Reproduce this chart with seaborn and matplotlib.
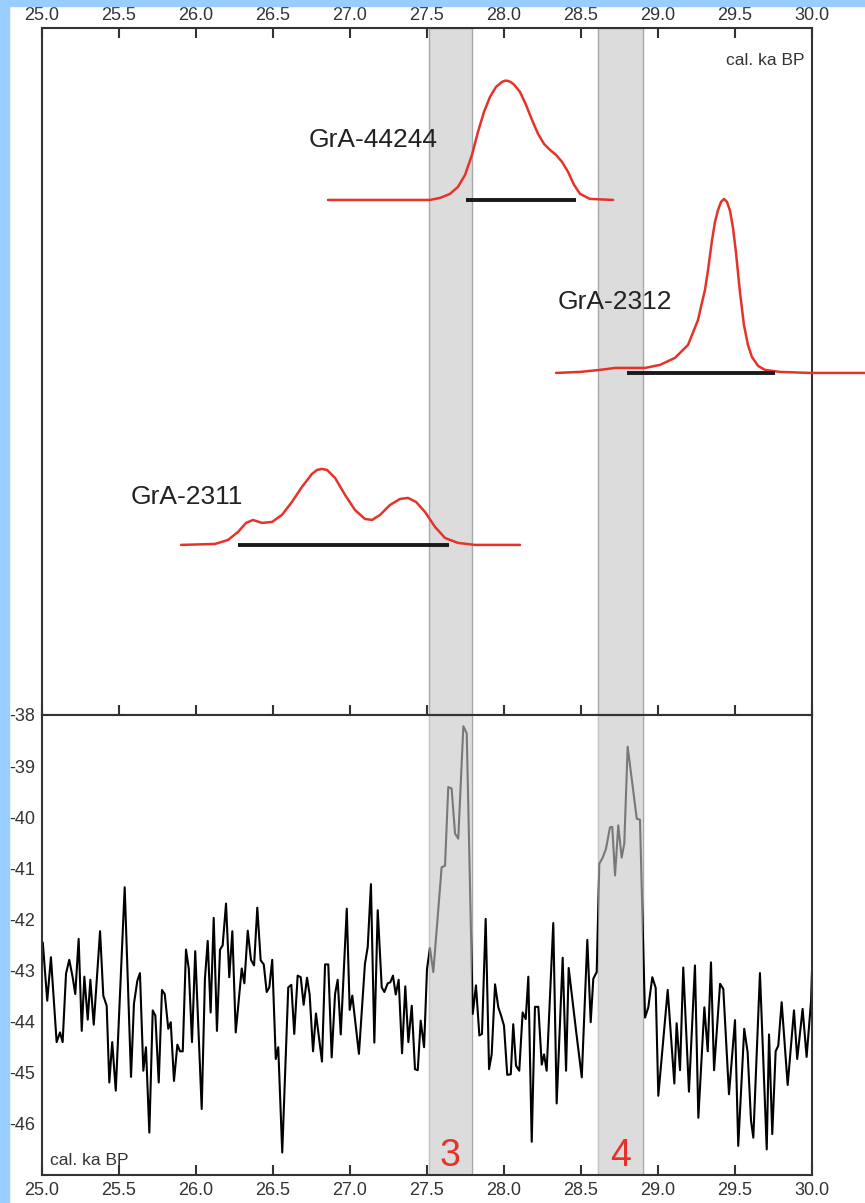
import numpy as np
import pandas as pd
import matplotlib
matplotlib.use("Agg")
import matplotlib.pyplot as plt
from matplotlib.patches import Rectangle
import seaborn as sns

# ---- isotope record (lower panel) ----
series_age = [
    25.005, 25.034, 25.058, 25.095, 25.117, 25.134, 25.156, 25.177, 25.199, 25.216,
    25.238, 25.258, 25.275, 25.297, 25.314, 25.336, 25.377, 25.398, 25.420, 25.437,
    25.456, 25.479, 25.537, 25.578, 25.597, 25.619, 25.636, 25.658, 25.675, 25.697,
    25.719, 25.736, 25.758, 25.779, 25.797, 25.820, 25.836, 25.857, 25.879, 25.896,
    25.914, 25.935, 25.953, 25.974, 25.995, 26.037, 26.058, 26.076, 26.095, 26.115,
    26.136, 26.156, 26.173, 26.195, 26.216, 26.236, 26.258, 26.297, 26.314, 26.336,
    26.357, 26.377, 26.398, 26.420, 26.440, 26.459, 26.476, 26.495, 26.518, 26.534,
    26.560, 26.599, 26.619, 26.638, 26.660, 26.680, 26.699, 26.721, 26.738, 26.760,
    26.779, 26.818, 26.838, 26.859, 26.881, 26.903, 26.920, 26.940, 26.979, 26.998,
    27.015, 27.058, 27.097, 27.115, 27.136, 27.158, 27.180, 27.206, 27.223, 27.245,
    27.262, 27.279, 27.297, 27.316, 27.338, 27.359, 27.379, 27.401, 27.422, 27.440,
    27.459, 27.481, 27.500, 27.519, 27.541, 27.595, 27.617, 27.638, 27.660, 27.682,
    27.703, 27.736, 27.758, 27.797, 27.818, 27.840, 27.857, 27.881, 27.903, 27.920,
    27.942, 27.963, 27.981, 28.000, 28.021, 28.044, 28.060, 28.078, 28.099, 28.121,
    28.141, 28.158, 28.180, 28.201, 28.223, 28.245, 28.260, 28.277, 28.320, 28.342,
    28.381, 28.403, 28.420, 28.468, 28.505, 28.541, 28.563, 28.580, 28.602, 28.619,
    28.641, 28.662, 28.688, 28.703, 28.721, 28.742, 28.764, 28.781, 28.803, 28.862,
    28.883, 28.916, 28.937, 28.963, 28.985, 29.002, 29.063, 29.106, 29.121, 29.143,
    29.164, 29.201, 29.240, 29.262, 29.301, 29.323, 29.344, 29.364, 29.403, 29.424,
    29.461, 29.500, 29.521, 29.560, 29.582, 29.604, 29.619, 29.662, 29.706, 29.721,
    29.742, 29.764, 29.781, 29.803, 29.842, 29.883, 29.904, 29.939, 29.965, 29.994,
    30.000,
]
series_val = [
    -42.45, -43.59, -42.74, -44.40, -44.21, -44.40, -43.06, -42.79, -43.13, -43.46,
    -42.38, -44.18, -43.12, -43.96, -43.18, -44.06, -42.23, -43.49, -43.69, -45.19,
    -44.40, -45.35, -41.37, -45.08, -43.65, -43.20, -43.05, -44.96, -44.50, -46.17,
    -43.78, -43.88, -45.19, -43.38, -43.46, -44.14, -44.01, -45.16, -44.45, -44.58,
    -44.58, -42.59, -42.96, -44.40, -42.62, -45.71, -43.16, -42.42, -43.82, -41.97,
    -44.18, -42.59, -42.51, -41.69, -43.13, -42.23, -44.21, -42.96, -43.25, -42.22,
    -42.79, -42.90, -41.77, -42.80, -42.88, -43.42, -43.33, -42.79, -44.73, -44.50,
    -46.56, -43.33, -43.28, -44.24, -43.10, -43.13, -43.67, -43.14, -43.47, -44.58,
    -43.84, -44.78, -42.88, -42.88, -44.70, -43.46, -43.18, -44.25, -41.79, -43.77,
    -43.49, -44.63, -42.87, -42.54, -41.31, -44.41, -41.82, -43.33, -43.42, -43.25,
    -43.23, -43.10, -43.47, -43.18, -44.62, -43.31, -44.40, -43.69, -44.93, -44.95,
    -43.98, -44.50, -42.97, -42.56, -43.03, -40.98, -40.95, -39.41, -39.44, -40.32,
    -40.42, -38.22, -38.36, -43.85, -43.29, -44.27, -44.24, -41.99, -44.93, -44.64,
    -43.27, -43.72, -43.88, -44.08, -45.04, -45.03, -44.05, -44.86, -44.96, -43.82,
    -43.95, -43.12, -46.35, -43.71, -43.71, -44.84, -44.64, -44.96, -42.07, -45.60,
    -42.75, -44.96, -42.95, -44.18, -45.09, -42.40, -44.01, -43.16, -43.03, -40.91,
    -40.79, -40.62, -40.20, -40.19, -41.14, -40.16, -40.79, -40.52, -38.62, -40.03,
    -40.05, -43.92, -43.72, -43.13, -43.34, -45.45, -43.38, -45.21, -44.03, -44.95,
    -42.94, -45.37, -42.90, -45.88, -43.72, -44.58, -42.84, -44.95, -43.26, -43.36,
    -45.42, -43.97, -46.43, -44.14, -44.60, -45.94, -46.27, -43.05, -46.50, -44.25,
    -46.20, -44.58, -44.47, -43.62, -45.24, -43.78, -44.73, -43.75, -44.69, -43.59,
    -43.00,
]

# ---- calibrated radiocarbon ages (upper panel, arbitrary vertical units) ----
gra44244_age = [26.857, 27.519, 27.584, 27.649, 27.701, 27.747, 27.792, 27.831, 27.870,
                27.909, 27.948, 27.987, 28.007, 28.026, 28.045, 28.065, 28.104, 28.143,
                28.182, 28.221, 28.260, 28.299, 28.338, 28.377, 28.416, 28.455, 28.494,
                28.558, 28.708]
gra44244_prob = [7.496, 7.496, 7.525, 7.584, 7.686, 7.860, 8.151, 8.486, 8.777,
                 8.996, 9.141, 9.214, 9.232, 9.229, 9.210, 9.175, 9.068, 8.879,
                 8.661, 8.457, 8.311, 8.224, 8.151, 8.049, 7.904, 7.715, 7.584,
                 7.511, 7.496]

gra2312_age = [28.338, 28.494, 28.623, 28.721, 28.818, 28.916, 29.013, 29.110, 29.195,
               29.260, 29.279, 29.305, 29.325, 29.351, 29.370, 29.390, 29.409, 29.429,
               29.448, 29.468, 29.487, 29.506, 29.532, 29.558, 29.584, 29.610, 29.650,
               29.695, 29.792, 29.987, 30.344]
gra2312_prob = [4.978, 4.993, 5.022, 5.051, 5.051, 5.051, 5.095, 5.197, 5.386,
                5.750, 5.939, 6.186, 6.477, 6.914, 7.176, 7.351, 7.467, 7.511,
                7.467, 7.336, 7.089, 6.739, 6.157, 5.677, 5.386, 5.211, 5.080,
                5.022, 4.993, 4.978, 4.978]

gra2311_age = [25.903, 26.123, 26.208, 26.273, 26.325, 26.370, 26.429, 26.494, 26.558,
               26.623, 26.688, 26.753, 26.786, 26.818, 26.851, 26.903, 26.968, 27.032,
               27.097, 27.143, 27.195, 27.260, 27.325, 27.377, 27.429, 27.487, 27.552,
               27.617, 27.701, 27.812, 28.104]
gra2311_prob = [2.475, 2.489, 2.547, 2.664, 2.795, 2.838, 2.795, 2.809, 2.911,
                3.100, 3.319, 3.508, 3.566, 3.581, 3.566, 3.450, 3.202, 2.984,
                2.853, 2.838, 2.911, 3.057, 3.144, 3.159, 3.100, 2.955, 2.737,
                2.576, 2.504, 2.475, 2.475]

sample_names = ["GrA-44244", "GrA-2312", "GrA-2311"]
range_start = [27.75, 28.80, 26.27]
range_end = [28.47, 29.76, 27.64]
range_level = [7.496, 4.978, 2.475]
name_pos = [(27.15, 8.37), (28.72, 6.01), (25.94, 3.17)]

# interstadial bands
band_start = [27.51, 28.61]
band_end = [27.79, 28.90]
band_names = ["3", "4"]

tick_vals = [25.0, 25.5, 26.0, 26.5, 27.0, 27.5, 28.0, 28.5, 29.0, 29.5, 30.0]
y_ticks = [-38, -39, -40, -41, -42, -43, -44, -45, -46]

RED = "#e5332a"
AXC = "#333333"
BAND = "#dcdcdc"

sns.set_theme(style="white")
plt.rcParams["font.family"] = ["Liberation Sans", "DejaVu Sans"]

fig = plt.figure(figsize=(8.65, 12.03), dpi=100)
fig.patch.set_facecolor("white")
fig.patches.append(Rectangle((0, 0), 9 / 865, 1, transform=fig.transFigure,
                             color="#99ccff", zorder=0))
fig.patches.append(Rectangle((0, 1 - 6 / 1203), 1, 6 / 1203, transform=fig.transFigure,
                             color="#99ccff", zorder=0))

ax_top = fig.add_axes([42 / 865, 0.4057, 770 / 865, 0.5711])
ax_bot = fig.add_axes([42 / 865, 0.02328, 770 / 865, 0.3824])

for ax in (ax_top, ax_bot):
    ax.set_facecolor("white")
    ax.set_xlim(25.0, 30.0)
    for s in ax.spines.values():
        s.set_color(AXC)
        s.set_linewidth(1.5)
        s.set_visible(True)
    for a, b in zip(band_start, band_end):
        ax.axvspan(a, b, facecolor=BAND, edgecolor="#a8a8a8", linewidth=1.0, zorder=0.5)

# upper panel: probability curves
curves = pd.concat([
    pd.DataFrame({"age": gra44244_age, "prob": gra44244_prob, "sample": sample_names[0]}),
    pd.DataFrame({"age": gra2312_age, "prob": gra2312_prob, "sample": sample_names[1]}),
    pd.DataFrame({"age": gra2311_age, "prob": gra2311_prob, "sample": sample_names[2]}),
])
sns.lineplot(data=curves, x="age", y="prob", hue="sample", palette=[RED] * 3,
             sort=False, estimator=None, legend=False, linewidth=1.8, ax=ax_top, zorder=3)
for ln in ax_top.lines:
    ln.set_clip_on(False)
    ln.set_solid_joinstyle("round")
for a, b, lev in zip(range_start, range_end, range_level):
    ax_top.plot([a, b], [lev, lev], color="#1a1a1a", linewidth=2.8,
                solid_capstyle="butt", zorder=4)
for name, (x, y) in zip(sample_names, name_pos):
    ax_top.text(x, y, name, fontsize=19, color="#222222", ha="center", va="center")
ax_top.text(29.95, 9.53, "cal. ka BP", fontsize=12.5, color=AXC, ha="right", va="center")

ax_top.set_ylim(0, 10)
ax_top.set_yticks([])
ax_top.set_xticks(tick_vals)
ax_top.set_xticklabels([f"{t:.1f}" for t in tick_vals])
ax_top.xaxis.tick_top()
ax_top.tick_params(axis="x", which="both", top=True, bottom=True, labeltop=True,
                   labelbottom=False, direction="in", length=7, width=1.5,
                   color=AXC, labelsize=13, labelcolor=AXC, pad=3)
ax_top.set_xlabel("")
ax_top.set_ylabel("")

# lower panel: isotope record
sns.lineplot(x=series_age, y=series_val, color="black", sort=False, estimator=None,
             linewidth=1.5, ax=ax_bot, zorder=2)
# translucent band on top so the line looks grey inside the bands
for a, b in zip(band_start, band_end):
    ax_bot.axvspan(a, b, facecolor=BAND, alpha=0.55, edgecolor="none", zorder=2.5)
for a, b, lab in zip(band_start, band_end, band_names):
    ax_bot.text((a + b) / 2, -46.63, lab, fontsize=27, color=RED, ha="center", va="center",
                zorder=5)
ax_bot.text(25.05, -46.72, "cal. ka BP", fontsize=12.5, color=AXC, ha="left", va="center")

ax_bot.set_ylim(-47, -38)
ax_bot.set_yticks(y_ticks)
ax_bot.set_yticklabels([str(v) for v in y_ticks])
ax_bot.set_xticks(tick_vals)
ax_bot.set_xticklabels([f"{t:.1f}" for t in tick_vals])
ax_bot.tick_params(axis="x", which="both", bottom=True, top=False, direction="in",
                   length=7, width=1.5, color=AXC, labelsize=13, labelcolor=AXC, pad=5)
ax_bot.tick_params(axis="y", left=True, length=0, labelsize=13, labelcolor=AXC, pad=5)
ax_bot.set_xlabel("")
ax_bot.set_ylabel("")

fig.savefig("out.png", dpi=100)
